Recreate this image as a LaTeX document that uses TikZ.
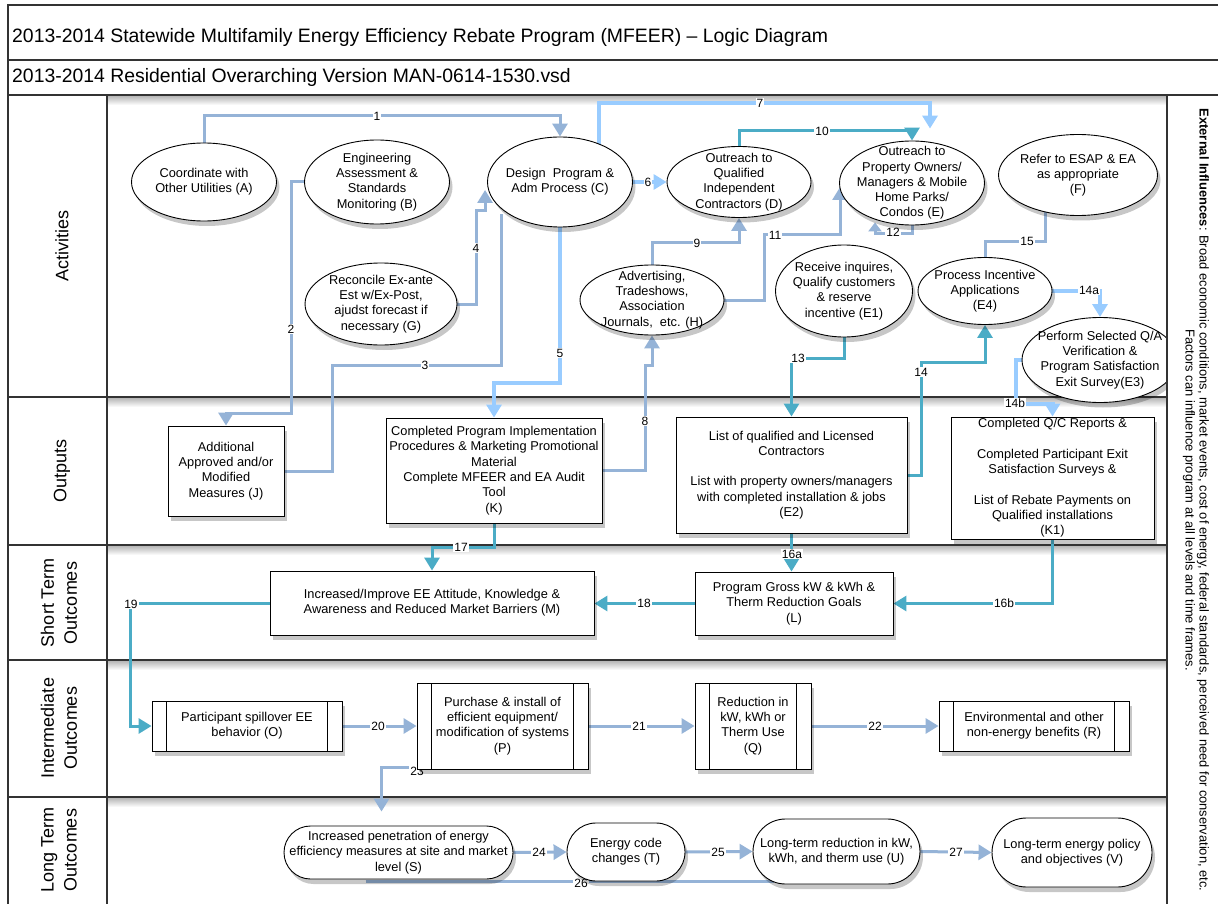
\documentclass[tikz,border=0pt]{standalone}
\usepackage{fontspec}
\setmainfont{Liberation Sans}
\usetikzlibrary{shapes.geometric,arrows.meta,shadows,calc}

\definecolor{steel}{HTML}{95B3D7}
\definecolor{lightb}{HTML}{99CCFF}
\definecolor{tealc}{HTML}{4BACC6}
\definecolor{laneline}{HTML}{333333}

\newcommand{\mynfont}{\fontsize{12.8}{15.3}\selectfont}
\newcommand{\mylfont}{\fontsize{18}{23}\selectfont}
\newcommand{\mytfont}{\fontsize{19.4}{22}\selectfont}
\newcommand{\myrfont}{\fontsize{12.9}{14}\selectfont}
\newcommand{\mylblfont}{\fontsize{12}{13}\selectfont}

\pgfdeclarelayer{lanes}
\pgfdeclarelayer{edges}
\pgfsetlayers{lanes,edges,main}

\begin{document}
\begin{tikzpicture}[x=1pt,y=-1pt,
  shd/.style={drop shadow={shadow xshift=3pt,shadow yshift=-5pt,opacity=0.22,fill=black}},
  ell/.style={ellipse,draw,line width=0.9pt,fill=white,inner sep=-12pt,align=center,font=\mynfont,shd},
  box/.style={rectangle,draw,line width=0.9pt,fill=white,inner sep=0pt,align=center,font=\mynfont,shd},
  pp/.style={box,path picture={
      \draw[line width=0.9pt] ([xshift=14.5pt]path picture bounding box.north west) -- ([xshift=14.5pt]path picture bounding box.south west)
        ([xshift=-14.5pt]path picture bounding box.north east) -- ([xshift=-14.5pt]path picture bounding box.south east);}},
  stad/.style={box,rounded corners=#1},
  lane/.style={draw=laneline,line width=1.3pt},
  lanelab/.style={rotate=90,align=center,font=\mylfont},
  cs/.style={draw=steel,line width=3pt},
  cl/.style={draw=lightb,line width=4pt},
  ct/.style={draw=tealc,line width=3pt},
  arr/.style={-{Triangle[length=13pt,width=15pt]}},
  lbl/.style={fill=white,inner sep=1pt,font=\mylblfont}
]
\useasboundingbox (0,0) rectangle (1218,904);

% ---------------- lanes / frame ----------------
\begin{pgfonlayer}{lanes}
\fill[white] (0,0) rectangle (1218,904);
\foreach \yy in {96,398,546,661,798}{
  \shade[top color=black!28,bottom color=white] (108,\yy) rectangle (1166,\yy+9);
}
\draw[lane] (8,904) -- (8,5) -- (1218,5);
\draw[lane] (8,60) -- (1218,60);
\draw[lane] (8,95) -- (1218,95);
\draw[lane] (107,95) -- (107,904);
\draw[lane] (1167,95) -- (1167,904);
\draw[lane] (8,397) -- (1167,397);
\draw[lane] (8,545) -- (1167,545);
\draw[lane] (8,660) -- (1167,660);
\draw[lane] (8,797) -- (1167,797);
\end{pgfonlayer}

\node[anchor=west,inner sep=0pt,font=\mytfont] (title) at (12,37) {2013-2014 Statewide Multifamily Energy Efficiency Rebate Program (MFEER) – Logic Diagram};
\node[anchor=west,inner sep=0pt,font=\mytfont] (subtitle) at (12,77) {2013-2014 Residential Overarching Version MAN-0614-1530.vsd};

\node[lanelab] (labAct) at (62,246) {Activities};
\node[lanelab] (labOut) at (62,471) {Outputs};
\node[lanelab] (labST) at (59,603) {Short Term\\Outcomes};
\node[lanelab] (labIT) at (59,728) {Intermediate\\Outcomes};
\node[lanelab] (labLT) at (59,850) {Long Term\\Outcomes};

% ---------------- Activities ----------------
\node[ell,minimum width=145pt,minimum height=78pt] (A) at (204,182) {Coordinate with\\Other Utilities (A)};
\node[ell,minimum width=145pt,minimum height=84pt] (B) at (377,182) {Engineering\\Assessment \&\\Standards\\Monitoring (B)};
\node[ell,minimum width=145pt,minimum height=90pt] (C) at (560,182) {Design\ \ Program \&\\Adm Process (C)};
\node[ell,minimum width=144pt,minimum height=71pt] (D) at (739,182) {Outreach to\\Qualified\\Independent\\Contractors (D)};
\node[ell,minimum width=145pt,minimum height=84pt] (E) at (912,183) {Outreach to\\Property Owners/\\Managers \& Mobile\\Home Parks/\\Condos (E)};
\node[ell,minimum width=159pt,minimum height=81pt] (F) at (1078,175) {Refer to ESAP \& EA\\as appropriate\\(F)};
\node[ell,minimum width=152pt,minimum height=82pt] (G) at (381,304) {Reconcile Ex-ante\\Est w/Ex-Post,\\ajudst forecast if\\necessary (G)};
\node[ell,minimum width=144pt,minimum height=70pt] (H) at (652,300) {Advertising,\\Tradeshows,\\Association\\Journals,\ \ etc. (H)};
\node[ell,minimum width=137pt,minimum height=92pt] (E1) at (844,291) {Receive inquires,\\Qualify customers\\\& reserve\\incentive (E1)};
\node[ell,minimum width=134pt,minimum height=67pt] (E4) at (985,291) {Process Incentive\\Applications\\(E4)};
\node[ell,minimum width=156pt,minimum height=85pt] (E3) at (1100,360) {Perform Selected Q/A\\Verification \&\\Program Satisfaction\\Exit Survey(E3)};
\fill[white] (1167.7,300) rectangle (1218,420);
\draw[lane] (1167,300) -- (1167,420);

% ---------------- Outputs ----------------
\node[box,minimum width=116pt,minimum height=90pt] (J) at (226,471) {Additional\\Approved and/or\\Modified\\Measures (J)};
\node[box,minimum width=216pt,minimum height=105pt] (K) at (494,470.5) {Completed Program Implementation\\Procedures \& Marketing Promotional\\Material\\Complete MFEER and EA Audit\\Tool\\(K)};
\node[box,minimum width=231pt,minimum height=116pt] (E2) at (791.5,475) {List of qualified and Licensed\\Contractors\\[15.3pt]List with property owners/managers\\with completed installation \& jobs\\(E2)};
\node[box,minimum width=203pt,minimum height=122pt] (K1) at (1052.5,478) {Completed Q/C Reports \&\\[15.3pt]Completed Participant Exit\\Satisfaction Surveys \&\\[15.3pt]List of Rebate Payments on\\Qualified installations\\(K1)};

% ---------------- Short term ----------------
\node[box,minimum width=324pt,minimum height=64pt] (M) at (432,603) {Increased/Improve EE Attitude, Knowledge \&\\Awareness and Reduced Market Barriers (M)};
\node[box,minimum width=198pt,minimum height=63pt] (L) at (794,603.5) {Program Gross kW \& kWh \&\\Therm Reduction Goals\\(L)};

% ---------------- Intermediate ----------------
\node[pp,minimum width=190pt,minimum height=50pt] (O) at (247,726) {Participant spillover EE\\behavior (O)};
\node[pp,minimum width=171pt,minimum height=86pt] (P) at (502.5,726) {Purchase \& install of\\efficient equipment/\\modification of systems\\(P)};
\node[pp,minimum width=116pt,minimum height=86pt] (Q) at (753,726) {Reduction in\\kW, kWh or\\Therm Use\\(Q)};
\node[pp,minimum width=190pt,minimum height=50pt] (R) at (1034,726) {Environmental and other\\non-energy benefits (R)};

% ---------------- Long term ----------------
\node[stad=26.5pt,minimum width=229pt,minimum height=53pt] (S) at (398.5,852.5) {Increased penetration of energy\\efficiency measures at site and market\\level (S)};
\node[stad=29pt,minimum width=118pt,minimum height=58pt] (T) at (626,852) {Energy code\\changes (T)};
\node[stad=32.5pt,minimum width=167pt,minimum height=65pt] (U) at (836.5,851.5) {Long-term reduction in kW,\\kWh, and therm use (U)};
\node[stad=34.5pt,minimum width=160pt,minimum height=69pt] (V) at (1072,852.5) {Long-term energy policy\\and objectives (V)};

% ---------------- External influences ----------------
\node[rotate=-90,align=center,font=\myrfont,inner sep=0pt] (ext) at (1196,500) {\textbf{External Influences}: Broad economic conditions, market events, cost of energy, federal standards, perceived need for conservation, etc.\\Factors can influence program at all levels and time frames.};

% ---------------- connectors ----------------
\begin{pgfonlayer}{edges}
\draw[cs,arr] (A.north) -- ++(0,-27) -| (C.north);
\node[lbl] (l1) at (377,116) {1};
\draw[cs,arr] (B.west) -| (291,413) -| (J.north);
\node[lbl] (l2) at (291,329) {2};
\draw[cs] (J.east) -| (332,365) -| ($(C.south west)+(-7,0)$);
\node[lbl] (l3) at (425,365) {3};
\draw[cs,arr] (G.east) -| (476,211) -| ($(C.west)+(-2,8)$);
\node[lbl] (l4) at (476,248) {4};
\draw[cl,arr] (C.south) -- ++(0,156) -| (K.north);
\node[lbl] (l5) at (560,353) {5};
\draw[cl,arr] (C.east) -- (D.west);
\node[lbl] (l6) at (648,182) {6};
\draw[cl,arr] ($(C.north)+(39,8)$) -- ++(0,-42) -| ($(E.north)+(18,-12)$);
\node[lbl] (l7) at (760,103) {7};
\draw[ct,arr] (D.north) -- ++(0,-16) -| (E.north);
\node[lbl] (l10) at (822,131) {10};
\draw[cs,arr] (H.north) -- ++(0,-22) -| (D.south);
\node[lbl] (l9) at (697,243) {9};
\draw[cs,arr] (H.east) -| (764,235) -| ($(E.west)+(1,4)$);
\node[lbl] (l11) at (775,235) {11};
\draw[cs,-{Triangle[length=9pt,width=13pt]}] (E.south) -- ++(0,8) -| ($(E.south)+(-37,-3)$);
\node[lbl] (l12) at (893,232) {12};
\draw[ct,arr] (E1.south) -- ++(0,21) -| (E2.north);
\node[lbl] (l13) at (798,358) {13};
\draw[ct,arr] (E2.east) -| (921,362) -| (E4.south);
\node[lbl] (l14) at (921,372) {14};
\draw[cs] ($(F.south)+(-33,-4)$) -- ++(0,30) -| (E4.north);
\node[lbl] (l15) at (1027,241) {15};
\draw[cl,arr] (E4.east) -| (E3.north);
\node[lbl] (l14a) at (1089,290) {14a};
\draw[cl,arr] (E3.west) -| (1016,404) -| (K1.north);
\node[lbl] (l14b) at (1015,403) {14b};
\draw[cs,arr] (K.east) -| (645,365) -| (H.south);
\node[lbl] (l8) at (645,421) {8};
\draw[ct,arr] (K.south) -- ++(0,24) -| (M.north);
\node[lbl] (l17) at (461,547) {17};
\draw[ct,arr] (E2.south) -- (E2.south |- L.north);
\node[lbl] (l16a) at (792,554) {16a};
\draw[ct,arr] (K1.south) |- (L.east);
\node[lbl] (l16b) at (1004,603) {16b};
\draw[ct,arr] (L.west) -- (L.west -| M.east);
\node[lbl] (l18) at (644,603) {18};
\draw[ct,arr] (M.west) -| (130,726) -- (O.west);
\node[lbl] (l19) at (131,604) {19};
\draw[cs,arr] (O.east) -- (P.west);
\node[lbl] (l20) at (378,726) {20};
\draw[cs,arr] (P.east) -- (Q.west);
\node[lbl] (l21) at (639,726) {21};
\draw[cs,arr] (Q.east) -- (R.west);
\node[lbl] (l22) at (875,726) {22};
\draw[cs,arr] ($(P.south west)+(-8,-2)$) -| ($(S.north)+(-17,-14)$);
\node[lbl] (l23) at (417,771) {23};
\draw[cs,arr] (S.east) -- (T.west);
\node[lbl] (l24) at (539,852) {24};
\draw[cs,arr] (T.east) -- (U.west);
\node[lbl] (l25) at (718,852) {25};
\draw[cs,arr] (U.east) -- (V.west);
\node[lbl] (l27) at (956,852) {27};
\draw[cs] ($(S.south)+(-33,2)$) -- ($(U.south)+(-63,-3)$);
\node[lbl] (l26) at (581,883) {26};
\end{pgfonlayer}
\end{tikzpicture}
\end{document}
